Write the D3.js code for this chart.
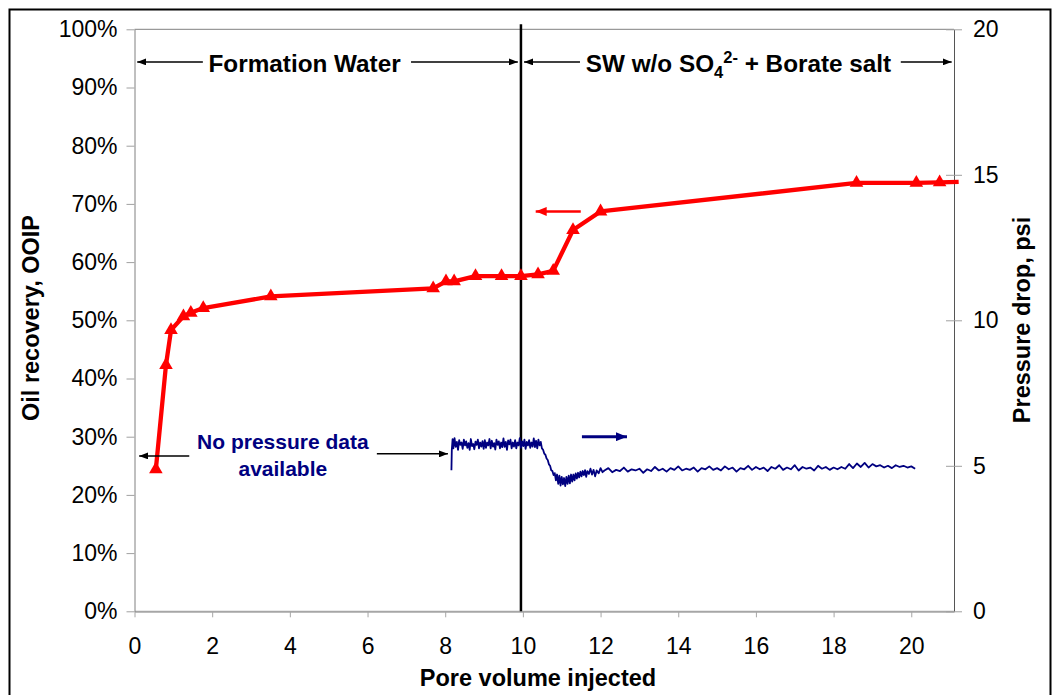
<!DOCTYPE html>
<html>
<head>
<meta charset="utf-8">
<script src="https://cdn.jsdelivr.net/npm/d3@7"></script>
<style>
body { margin: 0; background: #fff; }
svg text { font-family: "Liberation Sans", Arial, sans-serif; }
.tick text { font-size: 23px; fill: #000; }
.title { font-size: 23.5px; font-weight: bold; fill: #000; }
.phase { font-size: 24.3px; font-weight: bold; fill: #000; }
</style>
</head>
<body>
<div id="chart"></div>
<script>
"use strict";

//
//   DATA
//

// Oil recovery (red, left axis): pore volumes injected and % OOIP
var recoveryPV  = [0.55, 0.81, 0.94, 1.26, 1.45, 1.77, 3.51, 7.69, 8.02, 8.23, 8.78, 9.45, 9.95, 10.39, 10.78, 11.29, 12.0, 18.59, 20.13, 20.73, 21.22];
var recoveryPct = [24.4, 42.3, 48.3, 50.7, 51.3, 52.1, 54.1, 55.5, 56.7, 56.7, 57.6, 57.6, 57.6, 57.9, 58.5, 65.5, 68.7, 73.6, 73.6, 73.7, 73.8];
var markerCount = 20; // last point is only the line running out past the axis

// Pressure drop (blue, right axis): [pore volume, psi]
var pressureData = [
    [8.16, 4.85], [8.17, 5.55], [8.19, 5.92], [8.21, 5.6], [8.24, 5.95], [8.27, 5.65], [8.30, 5.82], [8.33, 5.55],
    [8.36, 5.88], [8.39, 5.72], [8.42, 5.8], [8.45, 5.58], [8.48, 5.9], [8.51, 5.7], [8.54, 5.84], [8.57, 5.62],
    [8.60, 5.78], [8.63, 5.55], [8.66, 5.92], [8.69, 5.68], [8.72, 5.75], [8.75, 5.57], [8.78, 5.83], [8.81, 5.72],
    [8.84, 5.9], [8.87, 5.6], [8.90, 5.8], [8.93, 5.66], [8.96, 5.85], [8.99, 5.58], [9.02, 5.88], [9.05, 5.62],
    [9.08, 5.8], [9.11, 5.7], [9.14, 5.92], [9.17, 5.6], [9.20, 5.86], [9.23, 5.66], [9.26, 5.78], [9.29, 5.56],
    [9.32, 5.9], [9.35, 5.72], [9.38, 5.84], [9.41, 5.6], [9.44, 5.8], [9.47, 5.64], [9.50, 5.94], [9.53, 5.65],
    [9.56, 5.82], [9.59, 5.55], [9.62, 5.87], [9.65, 5.74], [9.68, 5.9], [9.71, 5.6], [9.74, 5.8], [9.77, 5.66],
    [9.80, 5.88], [9.83, 5.6], [9.86, 5.8], [9.89, 5.7], [9.92, 5.95], [9.95, 5.62], [9.98, 5.84], [10.01, 5.68],
    [10.04, 5.9], [10.07, 5.58], [10.10, 5.82], [10.13, 5.7], [10.16, 5.88], [10.19, 5.62], [10.22, 5.8], [10.25, 5.66],
    [10.28, 5.94], [10.31, 5.64], [10.34, 5.86], [10.37, 5.6], [10.40, 5.9], [10.43, 5.7], [10.46, 5.82],
    [10.49, 5.6], [10.52, 5.55], [10.55, 5.42], [10.58, 5.38], [10.61, 5.25], [10.64, 5.2], [10.67, 5.05], [10.70, 5.0],
    [10.73, 4.85], [10.76, 4.82], [10.79, 4.68], [10.82, 4.75], [10.85, 4.5], [10.88, 4.7], [10.91, 4.38], [10.94, 4.66],
    [10.97, 4.32], [11.00, 4.62], [11.03, 4.36], [11.06, 4.58], [11.09, 4.3], [11.12, 4.62], [11.15, 4.38], [11.18, 4.66],
    [11.21, 4.4], [11.24, 4.7], [11.27, 4.46], [11.30, 4.7], [11.33, 4.5], [11.36, 4.74], [11.39, 4.56], [11.42, 4.76],
    [11.45, 4.6], [11.48, 4.8], [11.51, 4.64], [11.54, 4.82], [11.57, 4.68], [11.60, 4.85], [11.63, 4.62], [11.66, 4.82],
    [11.70, 4.72], [11.74, 4.9], [11.78, 4.7], [11.82, 4.86], [11.86, 4.64], [11.90, 4.84], [11.95, 4.74], [12.00, 4.92],
    [12.05, 4.78], [12.1, 4.84], [12.2, 4.92], [12.3, 4.78], [12.4, 4.86], [12.5, 4.82], [12.6, 4.94], [12.7, 4.8],
    [12.8, 4.88], [12.9, 4.84], [13.0, 4.9], [13.1, 4.76], [13.2, 4.88], [13.3, 4.82], [13.4, 4.96], [13.5, 4.84],
    [13.6, 4.9], [13.7, 4.8], [13.8, 4.92], [13.9, 4.86], [14.0, 4.98], [14.1, 4.84], [14.2, 4.9], [14.3, 4.86],
    [14.4, 4.94], [14.5, 4.8], [14.6, 4.92], [14.7, 4.88], [14.8, 4.98], [14.9, 4.86], [15.0, 4.92], [15.1, 4.84],
    [15.2, 4.98], [15.3, 4.88], [15.4, 4.94], [15.5, 4.8], [15.6, 4.92], [15.7, 4.88], [15.8, 5.0], [15.9, 4.86],
    [16.0, 4.96], [16.1, 4.88], [16.2, 4.94], [16.3, 4.82], [16.4, 4.96], [16.5, 4.9], [16.6, 5.02], [16.7, 4.86],
    [16.8, 4.94], [16.9, 4.88], [17.0, 5.02], [17.1, 4.84], [17.2, 4.96], [17.3, 4.9], [17.4, 4.94], [17.5, 4.84],
    [17.6, 5.0], [17.7, 4.9], [17.8, 4.96], [17.9, 4.86], [18.0, 4.94], [18.1, 4.88], [18.2, 4.96], [18.3, 4.9],
    [18.4, 5.06], [18.5, 4.92], [18.6, 5.08], [18.7, 4.96], [18.8, 5.1], [18.9, 4.94], [19.0, 5.06], [19.1, 4.98],
    [19.2, 5.02], [19.3, 4.94], [19.4, 5.0], [19.5, 4.92], [19.6, 5.02], [19.7, 4.96], [19.8, 5.0], [19.9, 4.94],
    [20.0, 4.98], [20.1, 4.9]
];

// Axis ticks
var xTicks = [0, 2, 4, 6, 8, 10, 12, 14, 16, 18, 20];
var leftTicks = [0, 10, 20, 30, 40, 50, 60, 70, 80, 90, 100];
var rightTicks = [0, 5, 10, 15, 20];

// Brine switch (pore volumes)
var switchPV = 9.95;

// Annotations, in chart units
var topLevel = 94.4; // % OOIP
var topArrows = [[1.76, 0.07], [7.12, 9.87], [11.47, 10.03], [19.73, 21.04]];
var noteArrows = [[1.41, 0.12, 5.34], [6.24, 8.07, 5.41]]; // from, to, psi
var recoveryArrow = [11.49, 10.33, 68.7];
var pressureArrow = [11.52, 12.68, 6.0];
var noteLines = ["No pressure data", "available"];
var notePos = [3.82, 5.58, 4.65];


//
//   SET UP
//

var WIDTH = 1058;
var HEIGHT = 695;
var RED = "#ff0000";
var NAVY = "#000080";

var PLOT_LEFT = 134.5, PLOT_TOP = 29.3, PLOT_RIGHT = 954, PLOT_BOTTOM = 611.3;

var svg = d3.select("#chart").append("svg")
    .attr("width", WIDTH)
    .attr("height", HEIGHT);

var scaleX = d3.scaleLinear().domain([0, 21.1]).range([PLOT_LEFT, PLOT_RIGHT]);
var scaleY = d3.scaleLinear().domain([0, 100]).range([PLOT_BOTTOM, PLOT_TOP]);
var scaleP = d3.scaleLinear().domain([0, 20]).range([PLOT_BOTTOM, PLOT_TOP]);

// Arrow heads
var defs = svg.append("defs");
[["black", "#000", 9, 7], ["red", RED, 11, 9], ["navy", NAVY, 11, 9]].forEach(function (m) {
    defs.append("marker")
        .attr("id", "head-" + m[0])
        .attr("markerUnits", "userSpaceOnUse")
        .attr("markerWidth", m[2])
        .attr("markerHeight", m[3])
        .attr("refX", m[2])
        .attr("refY", m[3] / 2)
        .attr("orient", "auto")
        .append("path")
        .attr("d", "M0,0L" + m[2] + "," + (m[3] / 2) + "L0," + m[3] + "Z")
        .attr("fill", m[1]);
});

// Outer frame
svg.append("rect")
    .attr("x", 9.5).attr("y", 9.5)
    .attr("width", 1041).attr("height", 700)
    .attr("fill", "none")
    .attr("stroke", "#000")
    .attr("stroke-width", 2);


//
//   AXES
//

// Top border of the plot area
svg.append("line")
    .attr("x1", PLOT_LEFT).attr("x2", PLOT_RIGHT)
    .attr("y1", PLOT_TOP).attr("y2", PLOT_TOP)
    .attr("stroke", "#808080");

var xAxis = svg.append("g")
    .attr("transform", translate(0, PLOT_BOTTOM))
    .call(d3.axisBottom(scaleX).tickValues(xTicks).tickSize(6).tickSizeOuter(0).tickPadding(20));
xAxis.select(".domain").attr("stroke", "#a6a6a6").attr("stroke-width", 2);
xAxis.selectAll(".tick line").attr("stroke", "#a6a6a6");

var yAxis = svg.append("g")
    .attr("transform", translate(PLOT_LEFT, 0))
    .call(d3.axisLeft(scaleY).tickValues(leftTicks).tickSize(8).tickSizeOuter(0).tickPadding(9)
        .tickFormat(function (d) { return d + "%"; }));
yAxis.select(".domain").attr("stroke", "#808080");
yAxis.selectAll(".tick line").attr("stroke", "#a0a0a0");

var pAxis = svg.append("g")
    .attr("transform", translate(PLOT_RIGHT, 0))
    .call(d3.axisRight(scaleP).tickValues(rightTicks).tickSize(8).tickSizeOuter(0).tickPadding(11));
pAxis.select(".domain").attr("stroke", "#555");
pAxis.selectAll(".tick line").attr("x1", -8).attr("stroke", "#a0a0a0");

svg.selectAll("g").attr("font-family", null).attr("font-size", null);

// Axis titles
svg.append("text")
    .attr("class", "title")
    .attr("x", 538).attr("y", 686)
    .attr("text-anchor", "middle")
    .text("Pore volume injected");

svg.append("text")
    .attr("class", "title")
    .attr("transform", translate(39, 318) + " rotate(-90)")
    .attr("text-anchor", "middle")
    .text("Oil recovery, OOIP");

svg.append("text")
    .attr("class", "title")
    .attr("transform", translate(1030, 320) + " rotate(-90)")
    .attr("text-anchor", "middle")
    .text("Pressure drop, psi");


//
//   SERIES
//

// Switch from formation water to modified seawater
svg.append("line")
    .attr("x1", scaleX(switchPV)).attr("x2", scaleX(switchPV))
    .attr("y1", PLOT_TOP - 5).attr("y2", PLOT_BOTTOM)
    .attr("stroke", "#000")
    .attr("stroke-width", 2.5);

var pressureLine = d3.line()
    .x(function (d) { return scaleX(d[0]); })
    .y(function (d) { return scaleP(d[1]); });

svg.append("path")
    .attr("d", pressureLine(pressureData))
    .attr("fill", "none")
    .attr("stroke", NAVY)
    .attr("stroke-width", 1.8)
    .attr("stroke-linejoin", "round");

var recovery = recoveryPV.map(function (pv, i) { return { pv: pv, pct: recoveryPct[i] }; });

var recoveryLine = d3.line()
    .x(function (d) { return scaleX(d.pv); })
    .y(function (d) { return scaleY(d.pct); });

svg.append("path")
    .attr("d", recoveryLine(recovery))
    .attr("fill", "none")
    .attr("stroke", RED)
    .attr("stroke-width", 4.3)
    .attr("stroke-linejoin", "round");

svg.selectAll("path.marker")
    .data(recovery.slice(0, markerCount))
    .enter().append("path")
    .attr("class", "marker")
    .attr("d", d3.symbol(d3.symbolTriangle).size(80))
    .attr("transform", function (d) { return translate(scaleX(d.pv), scaleY(d.pct)); })
    .attr("fill", RED);


//
//   ANNOTATIONS
//

function arrow(x1, x2, y, color, width, head) {
    svg.append("line")
        .attr("x1", x1).attr("x2", x2)
        .attr("y1", y).attr("y2", y)
        .attr("stroke", color)
        .attr("stroke-width", width)
        .attr("marker-end", "url(#head-" + head + ")");
}

topArrows.forEach(function (a) {
    arrow(scaleX(a[0]), scaleX(a[1]), scaleY(topLevel), "#000", 1.5, "black");
});

noteArrows.forEach(function (a) {
    arrow(scaleX(a[0]), scaleX(a[1]), scaleP(a[2]), "#000", 1.5, "black");
});

arrow(scaleX(recoveryArrow[0]), scaleX(recoveryArrow[1]), scaleY(recoveryArrow[2]), RED, 2.5, "red");
arrow(scaleX(pressureArrow[0]), scaleX(pressureArrow[1]), scaleP(pressureArrow[2]), NAVY, 3, "navy");

svg.append("text")
    .attr("class", "phase")
    .attr("x", scaleX(4.38)).attr("y", scaleY(topLevel))
    .attr("dy", "0.4em")
    .attr("text-anchor", "middle")
    .text("Formation Water");

var sw = svg.append("text")
    .attr("class", "phase")
    .attr("x", scaleX(11.62)).attr("y", scaleY(topLevel))
    .attr("dy", "0.4em");
sw.append("tspan").text("SW w/o SO");
sw.append("tspan").attr("font-size", "16.5px").attr("dy", 6).text("4");
sw.append("tspan").attr("font-size", "16.5px").attr("dy", -15).text("2-");
sw.append("tspan").attr("dy", 9).text(" + Borate salt");

noteLines.forEach(function (line, i) {
    svg.append("text")
        .attr("x", scaleX(notePos[0]))
        .attr("y", scaleP(notePos[i + 1]))
        .attr("text-anchor", "middle")
        .attr("font-size", "21px")
        .attr("font-weight", "bold")
        .attr("fill", NAVY)
        .text(line);
});


//
//   HELPERS
//

function translate(x, y) {
    return "translate(" + x + "," + y + ")";
}
</script>
</body>
</html>
